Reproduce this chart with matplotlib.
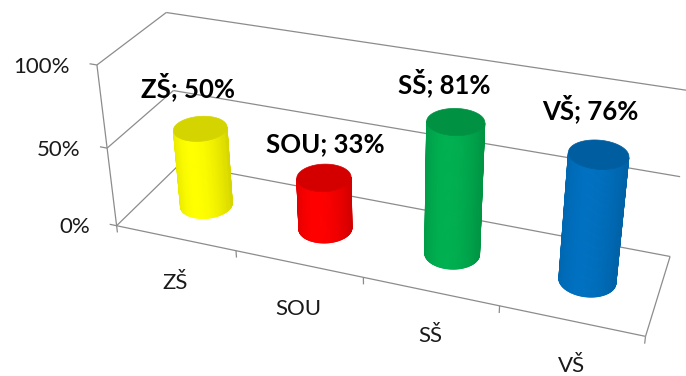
import numpy as np
import matplotlib
matplotlib.use("Agg")
import matplotlib.pyplot as plt
from matplotlib.patches import Polygon
from matplotlib.colors import to_rgb

categories = ["ZŠ", "SOU", "SŠ", "VŠ"]
shares = [0.50, 0.33, 0.81, 0.76]
value_ticks = [0.0, 0.5, 1.0]
value_tick_labels = ["0%", "50%", "100%"]
bar_colors = ["#FFFF00", "#FF0000", "#00B050", "#0070C0"]

# data-label nudges (pixels) relative to the top centre of each cylinder
label_offsets = [(-12, -42), (1, -33), (-11, -39), (-8, -46)]

W, H = 686, 376
fig = plt.figure(figsize=(W / 100, H / 100), dpi=100)
ax = fig.add_axes([0, 0, 1, 1])
ax.set_xlim(0, W)
ax.set_ylim(H, 0)
ax.axis("off")

# Perspective camera: world (category, depth, value) -> canvas pixels
CAMERA = np.array([
    [112.005, 78.93652, -26.13847, 116.603],
    [17.12354, -47.88752, -165.0845, 225.7206],
    [-0.03133059, 0.08572871, -0.0667157, 1.0],
])
_, _, _vt = np.linalg.svd(CAMERA)
cam_pos = _vt[-1][:3] / _vt[-1][3]


def proj(X, Y, Z):
    X, Y, Z = (np.atleast_1d(np.asarray(a, float)) for a in (X, Y, Z))
    X, Y, Z = np.broadcast_arrays(X, Y, Z)
    h = CAMERA @ np.vstack([X, Y, Z, np.ones_like(X)])
    return h[0] / h[2], h[1] / h[2]


grid_kw = dict(color="#8c8c8c", lw=0.9, zorder=1, solid_capstyle="butt")
text_kw = dict(family="Lato", color="#1a1a1a")
n_cat = len(categories)
depth = 1.0


def line3(a, b):
    xa, ya = proj(*a)
    xb, yb = proj(*b)
    ax.plot([xa[0], xb[0]], [ya[0], yb[0]], **grid_kw)


# side wall, back wall and floor outlines with value gridlines
for z in value_ticks:
    line3((0, 0, z), (0, depth, z))
    line3((0, depth, z), (n_cat, depth, z))
line3((0, 0, 0), (0, 0, 1))
line3((0, 0, 0), (n_cat, 0, 0))
line3((n_cat, 0, 0), (n_cat, depth, 0))

# value axis ticks and labels
for z, lab in zip(value_ticks, value_tick_labels):
    line3((0, 0, z), (-0.06, 0, z))
    x, y = proj(-0.06, 0, z)
    ax.text(x[0] - 20, y[0] + 3, lab, ha="right", va="center", fontsize=16, **text_kw)

# category axis ticks and labels
for i in range(n_cat + 1):
    line3((i, 0, 0), (i, 0, -0.045))
for i, lab in enumerate(categories):
    x, y = proj(i + 0.5, 0, 0)
    ax.text(x[0], y[0] + 45, lab, ha="center", va="center", fontsize=16, **text_kw)

# cylinders
radius = 0.2
theta = np.linspace(0, 2 * np.pi, 181)
for i, (val, col) in enumerate(zip(shares, bar_colors)):
    cx, cy = i + 0.5, depth / 2
    xs = cx + radius * np.cos(theta)
    ys = cy + radius * np.sin(theta)
    bu, bv = proj(xs, ys, 0.0)
    tu, tv = proj(xs, ys, val)
    base = np.array(to_rgb(col))
    umin, umax = min(bu.min(), tu.min()), max(bu.max(), tu.max())
    for k in range(len(theta) - 1):
        tm = 0.5 * (theta[k] + theta[k + 1])
        nrm = np.array([np.cos(tm), np.sin(tm), 0.0])
        pt = np.array([cx + radius * np.cos(tm), cy + radius * np.sin(tm), val / 2])
        if nrm @ (cam_pos - pt) <= 0:
            continue
        s = (0.25 * (bu[k] + bu[k + 1] + tu[k] + tu[k + 1]) - umin) / (umax - umin)
        if s > 0.35:
            f = 1 - 0.18 * ((s - 0.35) / 0.65) ** 2
        else:
            f = 1 - 0.12 * ((0.35 - s) / 0.35) ** 2
        c = base * f
        quad = [(bu[k], bv[k]), (bu[k + 1], bv[k + 1]),
                (tu[k + 1], tv[k + 1]), (tu[k], tv[k])]
        ax.add_patch(Polygon(quad, closed=True, fc=c, ec=c, lw=0.6, zorder=3 + i))
    top = base * 0.83
    ax.add_patch(Polygon(np.column_stack([tu, tv]), closed=True, fc=top, ec=top,
                         lw=0.5, zorder=3.5 + i))

    # data label
    px, py = proj(cx, cy, val)
    dx, dy = label_offsets[i]
    ax.text(px[0] + dx, py[0] + dy, f"{categories[i]}; {round(val * 100)}%",
            ha="center", va="center", fontsize=18.5, fontweight="bold",
            family="Lato", color="black", zorder=20)

fig.savefig("out.png", dpi=100)
